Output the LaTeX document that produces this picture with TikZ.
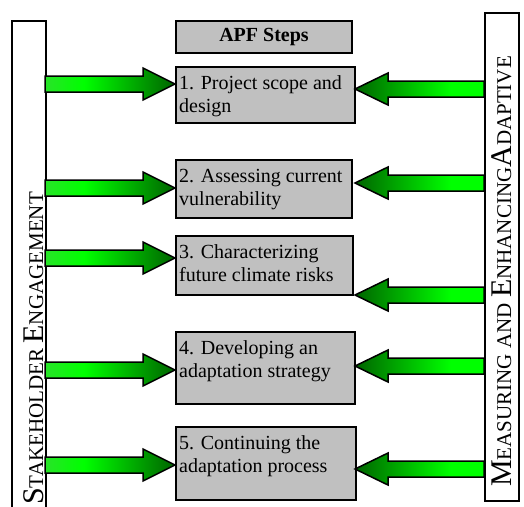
\documentclass[tikz,border=0pt]{standalone}
\usepackage{fontspec}
\setmainfont{Liberation Serif}
\usetikzlibrary{calc}
\definecolor{boxgray}{RGB}{192,192,192}
\definecolor{glight}{RGB}{40,228,40}
\definecolor{glime}{RGB}{0,255,0}
\definecolor{gdark}{RGB}{0,100,0}
\pgfdeclarehorizontalshading{gradR}{100bp}{color(0bp)=(glight); color(25bp)=(glight); color(40bp)=(glime); color(75bp)=(gdark); color(100bp)=(gdark)}
\pgfdeclarehorizontalshading{gradL}{100bp}{color(0bp)=(gdark); color(25bp)=(gdark); color(62bp)=(glime); color(75bp)=(glime); color(100bp)=(glime)}
\newcommand\bigcaps{\fontsize{30}{30}\selectfont}
\newcommand\smallcaps{\fontsize{21}{21}\selectfont}
\tikzset{
  stepbox/.style={draw=black, line width=2pt, fill=boxgray, rectangle, inner sep=0pt, anchor=north west},
  sidebar/.style={draw=black, line width=1.6pt, fill=white, rectangle, inner sep=0pt, anchor=north west},
  steptext/.style={font=\fontsize{20}{23.5}\selectfont, align=left, inner sep=0pt, anchor=north west},
  sidetext/.style={rotate=90, anchor=base west, inner sep=0pt},
  arrowR/.style={shading=gradR, draw=black, line width=1.5pt, line join=miter},
  arrowL/.style={shading=gradL, draw=black, line width=1.5pt, line join=miter}
}
% arrow pointing right: start x, tip x, centre y
\newcommand\blockarrowright[3]{%
  \shadedraw[arrowR] (#1,#3-8) -- (#2-32,#3-8) -- (#2-32,#3-16) -- (#2,#3) -- (#2-32,#3+16) -- (#2-32,#3+8) -- (#1,#3+8) -- cycle;}
% arrow pointing left: start x (right end), tip x, centre y
\newcommand\blockarrowleft[3]{%
  \shadedraw[arrowL] (#1,#3-8) -- (#2+33,#3-8) -- (#2+33,#3-16) -- (#2,#3) -- (#2+33,#3+16) -- (#2+33,#3+8) -- (#1,#3+8) -- cycle;}
\begin{document}
\begin{tikzpicture}[x=1pt,y=-1pt]
\useasboundingbox (0,0) rectangle (524,506);
% side bars
\node[sidebar, minimum width=34pt, minimum height=500pt] (barL) at (11,20) {};
\node[sidebar, minimum width=34pt, minimum height=488pt] (barR) at (484,12) {};
\node[sidetext] (tL) at (43,505) {{\bigcaps S}{\smallcaps TAKEHOLDER }{\bigcaps E}{\smallcaps NGAGEMENT}};
\node[sidetext] (tR) at (511,487) {{\bigcaps M}{\smallcaps EASURING AND }{\bigcaps E}{\smallcaps NHANCING}{\bigcaps A}{\smallcaps DAPTIVE}};
% step boxes
\node[stepbox, minimum width=176pt, minimum height=32pt, font=\bfseries\fontsize{20}{24}\selectfont] (apf) at (175,20) {APF Steps};
\node[stepbox, minimum width=179pt, minimum height=56pt] (b1) at (175,66) {};
\node[stepbox, minimum width=176pt, minimum height=58pt] (b2) at (175,159) {};
\node[stepbox, minimum width=177pt, minimum height=59pt] (b3) at (175,235) {};
\node[stepbox, minimum width=179pt, minimum height=72pt] (b4) at (175,331) {};
\node[stepbox, minimum width=180pt, minimum height=73pt] (b5) at (175,426) {};
\node[steptext] (t1) at ($(b1.north west)+(4,6.5)$) {\strut 1. Project scope and\\design};
\node[steptext] (t2) at ($(b2.north west)+(4,6.5)$) {\strut 2. Assessing current\\vulnerability};
\node[steptext] (t3) at ($(b3.north west)+(4,6.5)$) {\strut 3. Characterizing\\future climate risks};
\node[steptext] (t4) at ($(b4.north west)+(4,6.5)$) {\strut 4. Developing an\\adaptation strategy};
\node[steptext] (t5) at ($(b5.north west)+(4,6.5)$) {\strut 5. Continuing the\\adaptation process};
% arrows from stakeholder engagement
\blockarrowright{45}{175}{84}
\blockarrowright{45}{175}{188}
\blockarrowright{45}{175}{258}
\blockarrowright{45}{175}{370}
\blockarrowright{45}{175}{465}
% arrows from measuring and enhancing adaptive
\blockarrowleft{484}{355}{89}
\blockarrowleft{484}{355}{183}
\blockarrowleft{484}{355}{295}
\blockarrowleft{484}{355}{366}
\blockarrowleft{484}{355}{469}
\end{tikzpicture}
\end{document}
